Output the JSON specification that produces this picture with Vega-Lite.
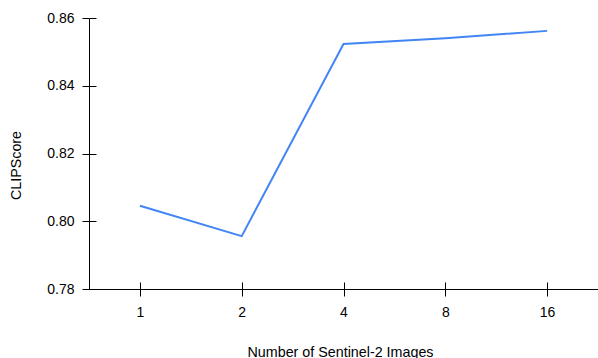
{
  "$schema": "https://vega.github.io/schema/vega-lite/v6.json",
  "width": 509,
  "height": 271,
  "autosize": {"type": "none"},
  "padding": {"left": 89, "top": 18, "right": 0, "bottom": 69},
  "background": "white",
  "config": {
    "view": {"stroke": null},
    "font": "Liberation Sans",
    "axis": {"domainColor": "black", "tickColor": "black", "labelColor": "black", "titleColor": "black", "labelFontSize": 14, "titleFontSize": 14.3, "titleFontWeight": "normal", "grid": false, "tickSize": 7, "domainWidth": 1, "tickWidth": 1}
  },
  "data": {"values": [
    {"n": "1", "score": 0.8046},
    {"n": "2", "score": 0.7956},
    {"n": "4", "score": 0.8523},
    {"n": "8", "score": 0.8540},
    {"n": "16", "score": 0.8562}
  ]},
  "layer": [
    {
      "mark": {"type": "line", "color": "#4285F4", "strokeWidth": 2},
      "encoding": {
        "x": {"field": "n", "type": "ordinal", "sort": null, "scale": {"type": "point", "padding": 0.5},
          "axis": {"orient": "bottom", "labelAngle": 0, "labelPadding": 9, "title": "Number of Sentinel-2 Images", "titleBaseline": "alphabetic", "titleX": 251, "titleY": 67, "titleAnchor": null}},
        "y": {"field": "score", "type": "quantitative", "scale": {"domain": [0.78, 0.86], "zero": false, "nice": false},
          "axis": {"orient": "left", "values": [0.78, 0.80, 0.82, 0.84, 0.86], "format": ".2f", "labelPadding": 8, "title": "CLIPScore", "titleBaseline": "alphabetic", "titleAngle": 270, "titleX": -69, "titleY": 147, "titleAlign": "center"}}
      }
    },
    {
      "mark": {"type": "line", "opacity": 0},
      "encoding": {
        "x": {"field": "n", "type": "ordinal", "sort": null,
          "axis": {"orient": "bottom", "tickSize": -7, "labels": false, "domain": false, "title": null}},
        "y": {"field": "score", "type": "quantitative",
          "axis": {"orient": "left", "values": [0.78, 0.80, 0.82, 0.84, 0.86], "tickSize": -7, "labels": false, "domain": false, "title": null}}
      }
    }
  ],
  "resolve": {"axis": {"x": "independent", "y": "independent"}}
}
